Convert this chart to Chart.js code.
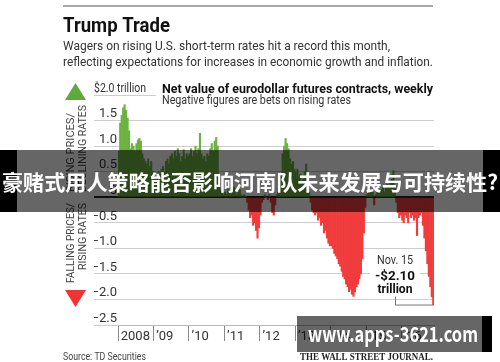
<!DOCTYPE html>
<html><head><meta charset="utf-8">
<script src="https://cdn.jsdelivr.net/npm/chart.js@4/dist/chart.umd.min.js"></script>
<style>html,body{margin:0;padding:0;background:#fff;overflow:hidden}canvas{display:block}</style>
</head><body>
<canvas id="c" width="500" height="362"></canvas>
<script>
// ---- data ----
const yearLabels = ['2008', '\u201909', '\u201910', '\u201911', '\u201912', '\u201913', '\u201914', '\u201915', '\u201916'];
const v2008 = [0.9,1.45,1.6,1.75,1.81,1.7,1.55,1.3,0.95,1.05,1.0,0.9,1.05,1.12,1.15,1.1,0.85,0.75,0.7,0.65,0.75,0.6,0.7,0.5];
const v2009 = [0.5,0.4,0.35,0.5,0.45,0.55,0.6,0.5,0.7,0.75,0.65,0.8,0.85,0.75,0.9,0.8,0.95,0.85,0.7,0.8,0.93,0.75,0.85,0.8];
const v2010 = [0.85,0.95,0.8,0.9,1.0,0.85,0.95,1.25,0.85,0.75,0.8,0.7,0.85,0.8,0.95,1.05,0.9,1.1,1.17,1.0,0.35,0.15,0.1,0.05];
const v2011 = [0.1,0.05,0.15,0.1,0.05,0.1,0.2,0.1,0.05,0.1,0.15,0.05,0.0,0.05,0.02,-0.1,-0.25,-0.4,-0.35,-0.55,-0.5,-0.65,-0.8,-0.6];
const v2012 = [-0.35,-0.1,-0.05,0.05,0.0,-0.05,0.05,-0.1,-0.3,-0.35,-0.15,0.05,0.1,0.25,0.45,0.85,1.0,1.15,1.05,0.95,0.75,0.65,0.7,0.55];
const v2013 = [0.5,0.55,0.4,0.45,0.3,0.35,0.5,0.65,0.3,0.1,-0.1,-0.25,-0.3,-0.35,-0.3,-0.45,-0.4,-0.55,-0.5,-0.7,-0.65,-0.8,-0.9,-0.95];
const v2014 = [-0.95,-1.0,-1.1,-1.15,-1.2,-1.3,-1.35,-1.45,-1.55,-1.6,-1.7,-1.75,-1.85,-1.8,-1.9,-1.94,-1.85,-1.75,-1.7,-1.6,-1.5,-1.2,-0.7,-0.2];
const v2015 = [0.05,0.1,0.08,0.15,0.1,-0.15,0.05,0.1,0.12,0.08,0.15,0.2,0.1,0.18,0.25,0.2,0.3,0.35,0.52,0.2,-0.1,-0.3,-0.4,-0.35];
const v2016 = [-0.45,-0.5,-0.35,-0.4,-0.5,-0.3,-0.4,-0.35,-0.45,-0.4,-0.75,-0.4,-0.35,-0.3,-0.55,-0.8,-1.05,-1.3,-1.55,-1.75,-1.95,-2.1];
const yearSeries = [v2008, v2009, v2010, v2011, v2012, v2013, v2014, v2015, v2016];
const yTicks = [-2.5, -2, -1.5, -1, -0.5, 0, 0.5, 1, 1.5, 2];

const titleText = 'Trump Trade';
const subLine1 = 'Wagers on rising U.S. short-term rates hit a record this month,';
const subLine2 = 'reflecting expectations for increases in economic growth and inflation.';
const chartHead = 'Net value of eurodollar futures contracts, weekly';
const chartSub = 'Negative figures are bets on rising rates';
const unitLabel = '$2.0 trillion';
const calloutLines = ['Nov. 15', '-$2.10', 'trillion'];
const sourceText = 'Source: TD Securities';
const wsjText = 'THE WALL STREET JOURNAL.';
const upLabels = ['RISING PRICES/', 'DECLINING RATES'];
const downLabels = ['FALLING PRICES/', 'RISING RATES'];
const bannerText = '豪赌式用人策略能否影响河南队未来发展与可持续性?';
const watermarkText = 'www.apps-3621.com';

const GREEN = '#6bb240', RED = '#f03c3c';

// ---- build ----
const categories = [];
const values = [];
yearSeries.forEach((arr, i) => arr.forEach((v, k) => { categories.push(yearLabels[i] + ' #' + (k + 1)); values.push(v); }));
const yearStart = [];
{ let n = 0; yearSeries.forEach(a => { yearStart.push(n); n += a.length; }); }

function fitText(c, s, x, y, font, color, w, align) {
  c.save();
  c.font = font; c.fillStyle = color; c.textBaseline = 'alphabetic';
  const mw = c.measureText(s).width;
  const k = w ? w / mw : 1;
  let ox = x;
  if (align === 'center') ox = x - (w || mw) / 2;
  else if (align === 'right') ox = x - (w || mw);
  c.translate(ox, y); c.scale(k, 1);
  c.textAlign = 'left';
  c.fillText(s, 0, 0);
  c.restore();
}

const decor = {
  id: 'decor',
  beforeDraw(chart) {
    const c = chart.ctx; c.save(); c.fillStyle = '#fff'; c.fillRect(0, 0, chart.width, chart.height); c.restore();
  },
  afterDraw(chart) {
    const c = chart.ctx;
    const xs = chart.scales.x, ys = chart.scales.y;
    c.save();
    // top rule
    c.strokeStyle = '#8c8c8c'; c.lineWidth = 1.5;
    c.beginPath(); c.moveTo(63, 6); c.lineTo(433, 6); c.stroke();
    fitText(c, titleText, 63, 31.5, 'bold 20px Roboto', '#111', 107);
    fitText(c, subLine1, 63, 50, '13.5px Roboto', '#333', 327);
    fitText(c, subLine2, 63, 66, '13.5px Roboto', '#333', 370);
    // header box
    c.fillStyle = '#fff'; c.fillRect(156, 80, 282, 28);
    fitText(c, chartHead, 162, 92.5, 'bold 13.5px Roboto', '#111', 271);
    fitText(c, chartSub, 162, 104, '12.5px Roboto', '#333', 189);
    fitText(c, unitLabel, 94, 92, '13px Roboto', '#333', 52);
    // triangles
    c.fillStyle = '#5faa3c';
    c.beginPath(); c.moveTo(75.5, 83); c.lineTo(86, 100); c.lineTo(65, 100); c.closePath(); c.fill();
    c.fillStyle = '#ef3434';
    c.beginPath(); c.moveTo(65, 290); c.lineTo(86, 290); c.lineTo(75.5, 307); c.closePath(); c.fill();
    // rotated labels
    const rot = (s, x, y, w, align) => {
      c.save(); c.translate(x, y); c.rotate(-Math.PI / 2);
      fitText(c, s, 0, 4, '11px Roboto', '#444', w, align);
      c.restore();
    };
    rot(upLabels[0], 70, 192, 79, 'left');
    rot(upLabels[1], 82, 192, 87, 'left');
    rot(downLabels[0], 70, 203, 80, 'right');
    rot(downLabels[1], 82, 203, 67, 'right');
    // callout
    const lastI = values.length - 1;
    const lx = xs.getPixelForValue(lastI) + 0.5;
    const ly = ys.getPixelForValue(values[lastI]);
    c.fillStyle = '#fff'; c.fillRect(370, 252, 50, 43);
    fitText(c, calloutLines[0], 395, 264, '12.5px Roboto', '#333', 36, 'center');
    fitText(c, calloutLines[1], 395, 279.5, 'bold 13.5px Roboto', '#111', 40, 'center');
    fitText(c, calloutLines[2], 395, 292.5, 'bold 13.5px Roboto', '#111', 35, 'center');
    c.strokeStyle = '#777'; c.lineWidth = 1;
    c.beginPath(); c.moveTo(395.5, ly - 8); c.lineTo(395.5, ly + 0.5); c.lineTo(lx, ly + 0.5); c.stroke();
    // footer
    fitText(c, sourceText, 63, 360, '11.5px Roboto', '#444', 83);
    fitText(c, wsjText, 300, 360, 'bold 10px "Liberation Serif"', '#222', 133);
    // banner
    c.fillStyle = 'rgba(0,0,0,0.6)'; c.fillRect(0, 150, 500, 62);
    c.fillStyle = '#000'; c.fillRect(0, 150, 17, 62); c.fillRect(483, 150, 17, 62);
    fitText(c, bannerText, 250, 189.5, 'bold 21px "Noto Sans CJK SC"', '#fff', 496, 'center');
    // watermark
    c.fillStyle = 'rgba(0,0,0,0.6)'; c.fillRect(297, 316, 185, 36);
    c.fillStyle = '#000'; c.fillRect(482, 316, 10, 36);
    fitText(c, watermarkText, 308, 341.5, 'bold 21px "Noto Sans CJK SC"', '#fff', 170);
    c.restore();
  }
};

const fmtY = v => v === 2 ? '' : (v === 0 ? '0' : (v < 0 ? '\u2013' : '') + Math.abs(v).toFixed(1));

new Chart(document.getElementById('c'), {
  type: 'bar',
  data: {
    labels: categories,
    datasets: [{
      data: values,
      backgroundColor: values.map(v => v >= 0 ? GREEN : RED),
      borderWidth: 0,
      barPercentage: 1,
      categoryPercentage: 1
    }]
  },
  options: {
    responsive: false,
    animation: false,
    devicePixelRatio: 1,
    layout: { padding: { left: 94, top: 95, right: 66, bottom: 17 } },
    plugins: { legend: { display: false }, tooltip: { enabled: false }, title: { display: false } },
    scales: {
      x: {
        afterFit(s) { s.height = 20; },
        grid: {
          offset: true, drawOnChartArea: false, drawTicks: true, tickLength: 16, lineWidth: 1,
          color: ctx => (yearStart.includes(ctx.index) ? '#8a8a8a' : 'rgba(0,0,0,0)')
        },
        border: { display: true, color: '#b8b8b8' },
        ticks: {
          autoSkip: false, maxRotation: 0, minRotation: 0, align: 'start', labelOffset: 2, padding: -12,
          font: { family: 'Roboto', size: 13 }, color: '#333',
          callback: (v, i) => { const k = yearStart.indexOf(i); return k >= 0 ? yearLabels[k] : ''; }
        }
      },
      y: {
        min: -2.5, max: 2,
        afterFit(s) { s.width = 24; },
        afterBuildTicks(s) { s.ticks = yTicks.map(v => ({ value: v })); },
        border: { display: false },
        grid: {
          drawTicks: true, tickLength: 24,
          color: ctx => (ctx.tick && ctx.tick.value === 0 ? '#222' : '#cdcdcd'),
          lineWidth: ctx => (ctx.tick && ctx.tick.value === 0 ? 2 : 1)
        },
        ticks: {
          padding: -23, labelOffset: -6.5,
          font: { family: 'Roboto', size: 13 }, color: '#333',
          callback: v => fmtY(v)
        }
      }
    }
  },
  plugins: [decor]
});
</script>
</body></html>
